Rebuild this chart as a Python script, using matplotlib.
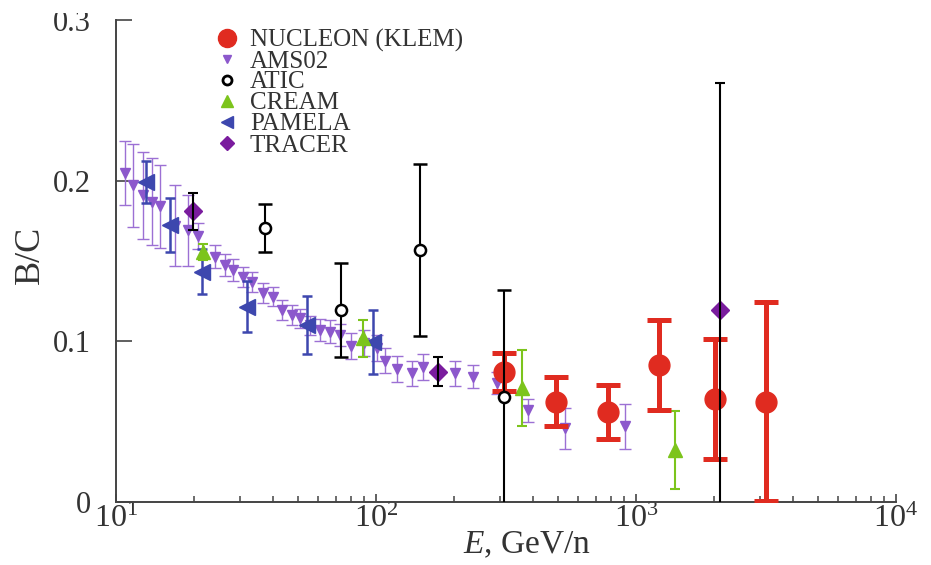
import matplotlib
matplotlib.use("Agg")
import matplotlib.pyplot as plt
from matplotlib.lines import Line2D
from matplotlib.patches import Rectangle

plt.rcParams['font.family'] = ['Liberation Serif', 'DejaVu Serif']
plt.rcParams['mathtext.fontset'] = 'custom'
plt.rcParams['mathtext.rm'] = 'Liberation Serif'
plt.rcParams['mathtext.it'] = 'Liberation Serif:italic'

# ---- data: B/C ratio vs kinetic energy per nucleon ----
nucleon_E = [310, 492, 783, 1225, 2014, 3162]
nucleon_bc = [0.081, 0.0624, 0.0562, 0.0853, 0.0639, 0.0624]
nucleon_err = [0.012, 0.0152, 0.0169, 0.0282, 0.0374, 0.0618]

ams_E = [10.8, 11.65, 12.74, 13.7, 14.8, 16.9, 19.0, 20.7, 24.0, 26.2, 28.3,
         30.9, 33.3, 36.9, 40.3, 43.4, 47.4, 51.0, 55.8, 60.9, 66.5, 72.7,
         80.0, 90.0, 100.6, 108, 120, 137, 152, 201, 237, 291, 385, 533, 907]
ams_bc = [0.205, 0.197, 0.191, 0.187, 0.184, 0.172, 0.169, 0.1656, 0.1527,
          0.1475, 0.1444, 0.140, 0.137, 0.130, 0.1278, 0.1195, 0.1164, 0.1143,
          0.110, 0.107, 0.106, 0.104, 0.097, 0.099, 0.096, 0.088, 0.083, 0.080,
          0.084, 0.080, 0.078, 0.074, 0.057, 0.046, 0.047]
ams_err = [0.020, 0.026, 0.027, 0.027, 0.026, 0.025, 0.022, 0.008, 0.007,
           0.007, 0.007, 0.006, 0.006, 0.006, 0.006, 0.006, 0.006, 0.006,
           0.006, 0.007, 0.007, 0.007, 0.008, 0.008, 0.008, 0.008, 0.008,
           0.008, 0.008, 0.008, 0.007, 0.007, 0.007, 0.0128, 0.014]

atic_E = [37.4, 73.1, 147.5, 310]
atic_bc = [0.1705, 0.1195, 0.157, 0.0655]
atic_err = [0.015, 0.0295, 0.0535, 0.0665]

cream_E = [21.7, 89.3, 363, 1413]
cream_bc = [0.1558, 0.1019, 0.0708, 0.0324]
cream_err = [0.005, 0.0114, 0.0238, 0.0244]

pamela_E = [13.1, 16.1, 21.4, 31.8, 54.1, 97.7]
pamela_bc = [0.199, 0.1724, 0.1433, 0.1216, 0.1102, 0.0998]
pamela_err = [0.013, 0.017, 0.014, 0.016, 0.018, 0.020]

tracer_E = [19.8, 173.7, 2104]
tracer_bc = [0.181, 0.0811, 0.1195]
tracer_err = [0.0115, 0.009, 0.1415]

x_ticks = [10, 100, 1000, 10000]
x_tick_labels = ['$10^1$', '$10^2$', '$10^3$', '$10^4$']
y_ticks = [0, 0.1, 0.2, 0.3]
y_tick_labels = ['0', '0.1', '0.2', '0.3']

legend_names = ['NUCLEON (KLEM)', 'AMS02', 'ATIC', 'CREAM', 'PAMELA', 'TRACER']

# ---- styling ----
c_nuc = '#e02b20'
c_ams = '#8c58cc'
c_ams_bar = '#9c70d4'
c_cream = '#7cc41c'
c_pam = '#3d47ae'
c_tra = '#7a1c9e'
ink = '#333333'

fig = plt.figure(figsize=(9.31, 5.65), dpi=100)
ax = fig.add_axes([116 / 931, 1 - 502 / 565, 780 / 931, 482 / 565])

ax.errorbar(ams_E, ams_bc, yerr=ams_err, fmt='v', color=c_ams, ms=7,
            ecolor=c_ams_bar, elinewidth=1.0, capsize=4.3, capthick=1.0,
            zorder=2)
ax.errorbar(pamela_E, pamela_bc, yerr=pamela_err, fmt='<', color=c_pam,
            ms=11.5, elinewidth=1.8, capsize=3.6, capthick=1.8, zorder=3)
ax.errorbar(cream_E, cream_bc, yerr=cream_err, fmt='^', color=c_cream,
            ms=10, elinewidth=1.5, capsize=3.6, capthick=1.5, zorder=4)
ax.errorbar(nucleon_E, nucleon_bc, yerr=nucleon_err, fmt='o', color=c_nuc,
            ms=15, elinewidth=3.6, capsize=8.3, capthick=3.6, zorder=5)
ax.errorbar(atic_E, atic_bc, yerr=atic_err, fmt='o', color='black',
            mfc='white', mec='black', mew=1.8, ms=8, elinewidth=1.5,
            capsize=4.7, capthick=1.5, zorder=6)
# TRACER: diamonds with black error bars drawn over them
ax.plot(tracer_E, tracer_bc, 'D', color=c_tra, ms=9, zorder=7)
ax.errorbar(tracer_E, tracer_bc, yerr=tracer_err, fmt='none', ecolor='black',
            elinewidth=1.5, capsize=3.6, capthick=1.5, zorder=8)

ax.set_xscale('log')
ax.set_xlim(10, 10000)
ax.set_ylim(0, 0.3)

ax.set_xticks(x_ticks)
ax.set_xticklabels(x_tick_labels)
ax.set_yticks(y_ticks)
ax.set_yticklabels(y_tick_labels)
ax.minorticks_on()
ax.yaxis.set_minor_locator(matplotlib.ticker.NullLocator())

for s in ['top', 'right']:
    ax.spines[s].set_visible(False)
for s in ['left', 'bottom']:
    ax.spines[s].set_linewidth(1.4)
    ax.spines[s].set_color('#444444')

ax.tick_params(axis='x', which='major', direction='in', length=6, width=1.2,
               color='#444444', labelsize=23, labelcolor=ink, pad=2)
ax.tick_params(axis='x', which='minor', direction='in', length=4.5,
               width=1.1, color='#444444')
ax.tick_params(axis='y', which='major', direction='in', length=11.5,
               width=1.2, color='#444444', labelsize=22, labelcolor=ink,
               pad=18)

# the top tick label sits against the upper edge of the figure
top_label = ax.yaxis.get_major_ticks()[-1].label1
top_label.set_clip_path(Rectangle((0, 0), 1, 1 - 13 / 565,
                                  transform=fig.transFigure))
top_label.set_clip_on(True)

ax.set_xlabel('$E$, GeV/n', fontsize=24, color=ink)
ax.xaxis.set_label_coords((527 - 116) / 780, (502 - 530) / 482)
ax.set_ylabel('B/C', fontsize=26, color=ink)
ax.yaxis.set_label_coords((47 - 116) / 780, (502 - 255) / 482)

# ---- legend, laid out row by row ----
leg_styles = [
    dict(marker='o', color=c_nuc, ms=13),
    dict(marker='v', color=c_ams, ms=6),
    dict(marker='o', color='black', mfc='white', mew=2, ms=6.5),
    dict(marker='^', color=c_cream, ms=9),
    dict(marker='<', color=c_pam, ms=9),
    dict(marker='D', color=c_tra, ms=7.5),
]
row_y = [38, 59, 80, 100.5, 121.5, 143]
for name, st, yy in zip(legend_names, leg_styles, row_y):
    fy = 1 - yy / 565
    fig.add_artist(Line2D([227 / 931], [fy], linestyle='none',
                          transform=fig.transFigure, **st))
    fig.text(250 / 931, fy, name, fontsize=18, color=ink,
             ha='left', va='center_baseline')

fig.savefig('out.png', dpi=100)
